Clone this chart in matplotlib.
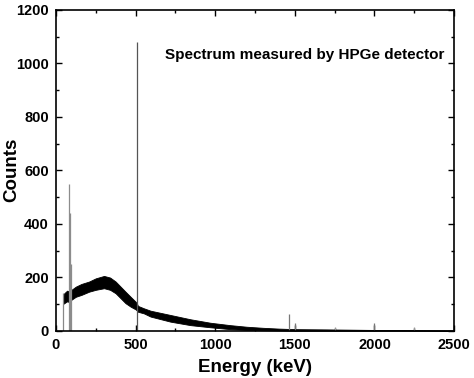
import numpy as np
import matplotlib.pyplot as plt

plt.rcParams['font.family'] = ['Liberation Sans', 'DejaVu Sans']
plt.rcParams['font.weight'] = 'bold'

# continuum band (lower / upper envelope of the noisy spectrum)
energy = [45, 52, 70, 80, 95, 125, 160, 208, 250, 302, 340, 375, 437, 469,
          500, 510, 515, 552, 594, 719, 844, 969, 1094, 1198, 1300, 1400,
          1500, 1700, 2000, 2300, 2500]
band_low = [100, 103, 110, 108, 115, 127, 134, 146, 153, 159, 153, 140, 103,
            90, 80, 75, 71, 65, 53, 34, 21, 13, 6, 3, 2, 1, 0, 0, 0, 0, 0]
band_high = [130, 140, 150, 148, 152, 165, 175, 184, 196, 205, 199, 184, 146,
             127, 109, 100, 93, 84, 75, 59, 43, 30, 21, 15, 11, 8, 6, 5, 3,
             2, 1]

# narrow peaks
peak_energy = [42, 83, 88, 93, 511, 1462, 1500, 1754, 1996, 2250]
peak_counts = [140, 550, 440, 250, 1080, 63, 28, 13, 28, 15]
peak_color = ['#888888', '#8c8c8c', '#8c8c8c', '#8c8c8c', '#555555',
              '#777777', '#777777', '#999999', '#777777', '#999999']

fig = plt.figure(figsize=(4.74, 3.78), dpi=100)
ax = fig.add_axes([0.118, 0.125, 0.840, 0.849])

ax.fill_between(energy, band_low, band_high, color='black', linewidth=0.6,
                edgecolor='black')
ax.vlines(peak_energy, 0, peak_counts, colors=peak_color, linewidth=0.9)

ax.set_xlim(0, 2500)
ax.set_ylim(0, 1200)
ax.set_xticks(np.arange(0, 2501, 500))
ax.set_xticks(np.arange(0, 2501, 250), minor=True)
ax.set_yticks(np.arange(0, 1201, 200))
ax.set_yticks(np.arange(0, 1201, 100), minor=True)
ax.tick_params(which='both', direction='in', top=True, right=True,
               labelsize=10.5, width=1.0, pad=5)
ax.tick_params(which='major', length=4)
ax.tick_params(which='minor', length=2.5)
for s in ax.spines.values():
    s.set_linewidth(1.2)

ax.set_xlabel('Energy (keV)', fontsize=13.5, fontweight='bold', labelpad=5)
# y label placed by hand so it stays inside the figure
fig.text(0.024, 0.55, 'Counts', rotation=90, ha='center', va='center',
         fontsize=13.5, fontweight='bold')
ax.text(2440, 1030, 'Spectrum measured by HPGe detector', ha='right',
        va='center', fontsize=11, fontweight='bold')

fig.savefig('out.png', dpi=100)
